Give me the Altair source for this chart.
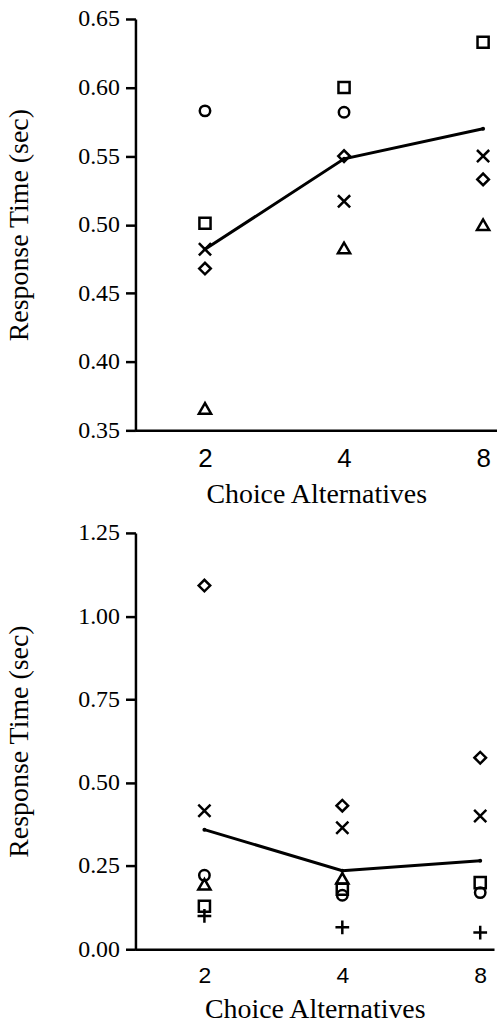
import altair as alt
import pandas as pd

# ---- data ----
alternatives = [2, 4, 8]

top_circle = [0.583, 0.582, None]
top_square = [0.501, 0.600, 0.633]
top_cross = [0.482, 0.517, 0.550]
top_diamond = [0.468, 0.550, 0.533]
top_triangle = [0.366, 0.483, 0.500]
top_mean = [0.482, 0.548, 0.570]

bot_circle = [0.222, 0.162, 0.170]
bot_square = [0.129, 0.180, 0.200]
bot_cross = [0.416, 0.365, 0.400]
bot_diamond = [1.092, 0.431, 0.575]
bot_triangle = [0.195, 0.213, None]
bot_plus = [0.100, 0.066, 0.050]
bot_mean = [0.359, 0.236, 0.266]

top_ticks = [0.35, 0.40, 0.45, 0.50, 0.55, 0.60, 0.65]
bot_ticks = [0.00, 0.25, 0.50, 0.75, 1.00, 1.25]

X_PATH = "M-1,-1L1,1M-1,1L1,-1"
PLUS_PATH = "M-1,0L1,0M0,-1L0,1"
# symbol name -> (vega shape, size)
marker_style = {
    "circle": ("circle", 110),
    "square": ("square", 125),
    "cross": (X_PATH, 150),
    "diamond": ("diamond", 135),
    "triangle": ("triangle-up", 150),
    "plus": (PLUS_PATH, 190),
}


def make_df(series):
    rows = []
    for sym, vals in series:
        for a, v in zip(alternatives, vals):
            if v is not None:
                rows.append({"alt": a, "rt": v, "symbol": sym})
    return pd.DataFrame(rows)


def panel(series, mean, ydom, yticks, width, height, xlab_size):
    df = make_df(series)
    mdf = pd.DataFrame({"alt": alternatives, "rt": mean})
    xenc = alt.X(
        "alt:Q",
        scale=alt.Scale(type="log", base=2, domain=[2 ** 0.5, 2 ** 3.1]),
        axis=alt.Axis(
            values=alternatives, format="d", title="Choice Alternatives",
            ticks=False, tickSize=0, labelFont="Liberation Sans",
            labelFontSize=xlab_size, labelPadding=15, titlePadding=9,
            labelAngle=0, grid=False, labelFlush=False,
        ),
    )
    yenc = alt.Y(
        "rt:Q",
        scale=alt.Scale(domain=ydom, nice=False, zero=False),
        axis=alt.Axis(
            values=yticks, format=".2f", title="Response Time (sec)",
            tickSize=10, tickWidth=2.5, grid=False, labelPadding=6,
            titlePadding=44,
        ),
    )
    line = alt.Chart(mdf).mark_line(color="black", strokeWidth=3).encode(x=xenc, y=yenc)
    dots = alt.Chart(mdf).mark_circle(color="black", size=16, opacity=1).encode(x=xenc, y=yenc)
    layers = [line, dots]
    for sym, _ in series:
        shp, sz = marker_style[sym]
        layers.append(
            alt.Chart(df).transform_filter(alt.datum.symbol == sym)
            .mark_point(filled=False, strokeWidth=2.5, color="black", opacity=1,
                        shape=shp, size=sz)
            .encode(x=xenc, y=yenc)
        )
    return alt.layer(*layers).properties(width=width, height=height)


top = panel(
    [("circle", top_circle), ("square", top_square), ("cross", top_cross),
     ("diamond", top_diamond), ("triangle", top_triangle)],
    top_mean, [0.35, 0.65], top_ticks, 363, 413, 26,
)
bottom = panel(
    [("circle", bot_circle), ("square", bot_square), ("cross", bot_cross),
     ("diamond", bot_diamond), ("triangle", bot_triangle), ("plus", bot_plus)],
    bot_mean, [0.0, 1.25], bot_ticks, 360, 418, 23,
)

chart = alt.vconcat(top, bottom, spacing=13).properties(
    padding={"left": 6, "top": 5, "right": 0, "bottom": 0},
    background="white",
).configure_view(stroke=None).configure_axis(
    domainColor="black", domainWidth=2.5, tickColor="black",
    labelColor="black", titleColor="black",
    labelFont="Liberation Serif", labelFontSize=24,
    titleFont="Liberation Serif", titleFontSize=28, titleFontWeight="normal",
)

chart.save("out.html", embed_options={"renderer": "svg", "actions": False})
